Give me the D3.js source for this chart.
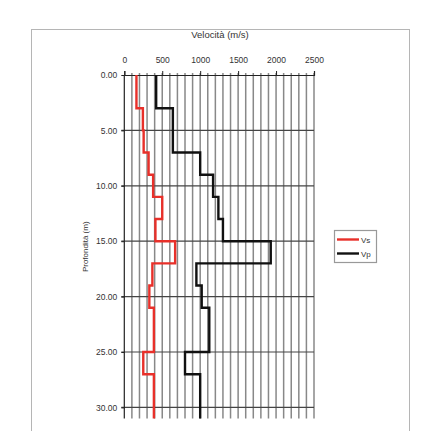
<!DOCTYPE html>
<html>
<head>
<meta charset="utf-8">
<script src="https://cdn.jsdelivr.net/npm/d3@7"></script>
<style>
  html, body { margin: 0; padding: 0; background: #fff; }
  svg { display: block; }
  text { font-family: "Liberation Sans", Arial, sans-serif; fill: #333; }
</style>
</head>
<body>
<svg id="chart" width="424" height="431"></svg>
<script>
// Layer boundaries (depth, m)
const layerTop    = [0, 3, 5, 7, 9, 11, 13, 15, 17, 19, 21, 25, 27];
const layerBottom = [3, 5, 7, 9, 11, 13, 15, 17, 19, 21, 25, 27, 31];
// Shear-wave and compression-wave velocities per layer (m/s)
const vs = [160, 245, 255, 320, 380, 500, 410, 670, 370, 330, 390, 250, 390];
const vp = [420, 640, 640, 1000, 1170, 1240, 1300, 1930, 950, 1020, 1120, 800, 1000];
// Axis ticks
const velocityTicks = [0, 500, 1000, 1500, 2000, 2500];
const depthTicks = [0, 5, 10, 15, 20, 25, 30];
const seriesNames = ["Vs", "Vp"];

const svg = d3.select("#chart");

// outer frame
svg.append("rect")
  .attr("x", 31.5).attr("y", 29.5).attr("width", 378).attr("height", 420)
  .attr("fill", "none").attr("stroke", "#b5b5b5").attr("stroke-width", 1);

const x = d3.scaleLinear().domain([0, 2500]).range([124.3, 314]);
const y = d3.scaleLinear().domain([0, 31]).range([75, 418.5]);

// vertical grid every 100 m/s
const grid = svg.append("g");
grid.selectAll("line.v")
  .data(d3.range(100, 2501, 100))
  .join("line")
  .attr("x1", d => x(d)).attr("x2", d => x(d))
  .attr("y1", y(0) - 2).attr("y2", y(31))
  .attr("stroke", "#888").attr("stroke-width", 1.5);

// horizontal grid every 5 m
grid.selectAll("line.h")
  .data(depthTicks.filter(d => d > 0))
  .join("line")
  .attr("x1", x(0) - 3).attr("x2", x(2500))
  .attr("y1", d => y(d)).attr("y2", d => y(d))
  .attr("stroke", "#444").attr("stroke-width", 1.2);

// top axis (velocity)
const xAxis = d3.axisTop(x).tickValues(velocityTicks).tickSize(4).tickFormat(d3.format("d"));
const gx = svg.append("g").attr("transform", `translate(0,${y(0)})`).call(xAxis);
gx.select(".domain").attr("stroke", "#222").attr("stroke-width", 1.2);
gx.selectAll(".tick line").attr("stroke", "#222");
gx.selectAll(".tick text").attr("font-size", 8.5).attr("fill", "#333")
  .attr("font-family", "Liberation Sans, Arial, sans-serif").attr("dy", "-5");

// left axis (depth)
const yAxis = d3.axisLeft(y).tickValues(depthTicks).tickSize(3).tickFormat(d3.format(".2f"));
const gy = svg.append("g").attr("transform", `translate(${x(0)},0)`).call(yAxis);
gy.select(".domain").attr("stroke", "#222").attr("stroke-width", 1.2)
  .attr("d", `M0,${y(0)}V${y(31)}`);
gy.selectAll(".tick line").attr("stroke", "#222");
gy.selectAll(".tick text").attr("font-size", 8.5).attr("fill", "#333")
  .attr("font-family", "Liberation Sans, Arial, sans-serif").attr("dx", "-1");

// axis titles
svg.append("text")
  .attr("x", 220).attr("y", 38).attr("text-anchor", "middle")
  .attr("font-size", 9.5).text("Velocità (m/s)");
svg.append("text")
  .attr("transform", `translate(88,${y(15.5)}) rotate(-90)`)
  .attr("text-anchor", "middle").attr("font-size", 8).text("Profondità (m)");

// step profiles
function profile(values) {
  const pts = [];
  values.forEach((v, i) => {
    pts.push([v, layerTop[i]]);
    pts.push([v, layerBottom[i]]);
  });
  return pts;
}
const line = d3.line().x(d => x(d[0])).y(d => y(d[1]));
const series = [
  { name: seriesNames[0], values: vs, color: "#e8302a" },
  { name: seriesNames[1], values: vp, color: "#111" }
];
svg.append("g").selectAll("path")
  .data(series)
  .join("path")
  .attr("d", d => line(profile(d.values)))
  .attr("fill", "none")
  .attr("stroke", d => d.color)
  .attr("stroke-width", 2.4)
  .attr("stroke-linejoin", "miter");

// legend
const lg = svg.append("g").attr("transform", "translate(334,230)");
lg.append("rect").attr("x", 0.5).attr("y", 0.5).attr("width", 42).attr("height", 32)
  .attr("fill", "#fff").attr("stroke", "#999").attr("stroke-width", 1.2);
series.forEach((s, i) => {
  const yy = 9.5 + i * 14;
  lg.append("line").attr("x1", 3).attr("x2", 25).attr("y1", yy).attr("y2", yy)
    .attr("stroke", s.color).attr("stroke-width", 2.4);
  lg.append("text").attr("x", 27).attr("y", yy + 3).attr("font-size", 8).text(s.name);
});
</script>
</body>
</html>
